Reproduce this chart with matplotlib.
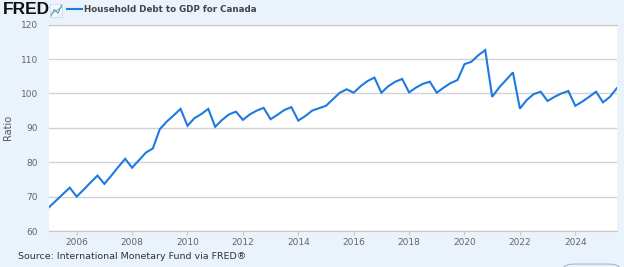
import numpy as np
import matplotlib.pyplot as plt
from matplotlib.patches import FancyBboxPatch

# quarterly, first obs 2005Q1
start_year = 2005.0
debt_to_gdp = [
    66.9, 68.8, 70.7, 72.6,
    70.0, 72.0, 74.1, 76.1,
    73.7, 76.1, 78.6, 81.0,
    78.4, 80.6, 82.8, 84.0,
    89.6, 91.8, 93.6, 95.5,
    90.6, 92.8, 94.0, 95.5,
    90.3, 92.3, 93.9, 94.7,
    92.3, 93.9, 95.0, 95.8,
    92.5, 93.8, 95.2, 96.0,
    92.1, 93.4, 95.0, 95.7,
    96.4, 98.3, 100.2, 101.2,
    100.2, 102.1, 103.6, 104.6,
    100.2, 102.1, 103.4, 104.2,
    100.3, 101.7, 102.8, 103.4,
    100.2, 101.7, 103.0, 103.9,
    108.5, 109.2, 111.1, 112.6,
    99.0, 101.7, 103.9, 106.1,
    95.6, 98.1, 99.8, 100.5,
    97.8, 99.0, 100.0, 100.7,
    96.4, 97.6, 99.0, 100.5,
    97.4, 99.0, 101.5,
]
year_ticks = [2006, 2008, 2010, 2012, 2014, 2016, 2018, 2020, 2022, 2024]
y_ticks = [60, 70, 80, 90, 100, 110, 120]

dates = start_year + np.arange(len(debt_to_gdp)) * 0.25

bg = "#eaf2fb"
fig = plt.figure(figsize=(6.24, 2.67), dpi=100, facecolor=bg)
ax = fig.add_axes([0.0785, 0.1348, 0.910, 0.773])
ax.set_facecolor("white")

ax.plot(dates, debt_to_gdp, color="#1f7ae0", lw=1.5, solid_joinstyle="miter")

ax.set_xlim(dates[0], dates[-1])
ax.set_ylim(60, 120)
ax.set_xticks(year_ticks)
ax.set_yticks(y_ticks)
ax.grid(axis="y", color="#d3d3d3", lw=1.0)
ax.set_axisbelow(True)
for side in ["left", "right"]:
    ax.spines[side].set_visible(False)
ax.spines["top"].set_color("#c8c8c8")
ax.spines["bottom"].set_color("#c8c8c8")
ax.tick_params(axis="y", length=0, labelsize=6.5, labelcolor="#666666", pad=8)
ax.tick_params(axis="x", length=3, color="#c8c8c8", labelsize=6.5, labelcolor="#666666", pad=2)
ax.set_ylabel("Ratio", fontsize=7, color="#555555")
ax.yaxis.set_label_coords(-0.063, 0.5)

# header
fig.text(0.004, 0.966, "FRED", fontsize=12.5, fontweight="heavy", color="#111111",
         va="center", ha="left", family="Liberation Sans")
icon = fig.add_axes([0.080, 0.935, 0.020, 0.05])
icon.plot([0, 1, 2, 3], [0, 1.2, 0.6, 2], color="#3a8ee6", lw=0.7)
icon.plot([0, 1, 2, 3], [0.3, 0.8, 1.2, 1.6], color="#7bbf6a", lw=0.7)
icon.set_xticks([])
icon.set_yticks([])
icon.patch.set_facecolor("#f4f8fd")
for s in icon.spines.values():
    s.set_color("#c5d6ea")
    s.set_linewidth(0.5)
fig.add_artist(plt.Line2D([0.107, 0.131], [0.966, 0.966], color="#1f7ae0", lw=1.5))
fig.text(0.134, 0.966, "Household Debt to GDP for Canada", fontsize=6.3,
         fontweight="bold", color="#444444", va="center", ha="left")

# footer
fig.text(0.029, 0.038, "Source: International Monetary Fund via FRED\u00ae", fontsize=6.8,
         color="#333333", va="center", ha="left")
fig.add_artist(FancyBboxPatch((0.902, -0.05), 0.092, 0.061, boxstyle="round,pad=0,rounding_size=0.02",
                              transform=fig.transFigure, facecolor=bg, edgecolor="#9fb8d6", lw=0.8))

fig.savefig("out.png", dpi=100, facecolor=bg)
